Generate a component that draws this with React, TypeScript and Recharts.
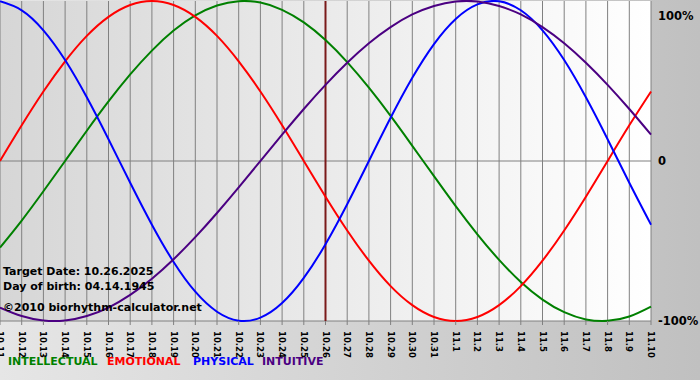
import React from "react";
import {
  LineChart,
  Line,
  XAxis,
  YAxis,
  CartesianGrid,
  ReferenceLine,
} from "recharts";

const dayLabels = [
  "10.11", "10.12", "10.13", "10.14", "10.15", "10.16", "10.17", "10.18", "10.19", "10.20",
  "10.21", "10.22", "10.23", "10.24", "10.25", "10.26", "10.27", "10.28", "10.29", "10.30",
  "10.31", "11.1", "11.2", "11.3", "11.4", "11.5", "11.6", "11.7", "11.8", "11.9", "11.10",
];

const intellectual = [
  -54.1, -37.2, -18.9, 0, 18.9, 37.2, 54.1, 69.0, 81.5, 91.0,
  97.2, 99.9, 99.0, 94.5, 86.6, 75.6, 61.8, 45.8, 28.2, 9.5,
  -9.5, -28.2, -45.8, -61.8, -75.6, -86.6, -94.5, -99.0, -99.9, -97.2, -91.0,
];

const emotional = [
  0, 22.3, 43.4, 62.3, 78.2, 90.1, 97.5, 100, 97.5, 90.1,
  78.2, 62.3, 43.4, 22.3, 0, -22.3, -43.4, -62.3, -78.2, -90.1,
  -97.5, -100, -97.5, -90.1, -78.2, -62.3, -43.4, -22.3, 0, 22.3, 43.4,
];

const physical = [
  99.8, 94.2, 81.7, 63.1, 39.8, 13.6, -13.6, -39.8, -63.1, -81.7,
  -94.2, -99.8, -97.9, -88.8, -73.1, -52.0, -27.0, 0, 27.0, 52.0,
  73.1, 88.8, 97.9, 99.8, 94.2, 81.7, 63.1, 39.8, 13.6, -13.6, -39.8,
];

const intuitive = [
  -91.6, -96.9, -99.7, -99.7, -96.9, -91.6, -83.7, -73.6, -61.4, -47.6,
  -32.5, -16.5, 0, 16.5, 32.5, 47.6, 61.4, 73.6, 83.7, 91.6,
  96.9, 99.7, 99.7, 96.9, 91.6, 83.7, 73.6, 61.4, 47.6, 32.5, 16.5,
];

const yTicks = [-100, 0, 100];
const targetIndex = 15;

const data = dayLabels.map((label, i) => ({
  i,
  label,
  intellectual: intellectual[i],
  emotional: emotional[i],
  physical: physical[i],
  intuitive: intuitive[i],
}));

const xTicks = dayLabels.map((_, i) => i);

const FONT = "'DejaVu Sans', Verdana, sans-serif";

const XTick = (props: any) => {
  const { x, y, payload } = props;
  return (
    <g transform={`translate(${x},${y + 4}) rotate(90)`}>
      <text
        x={0}
        y={0}
        dy="0.35em"
        textAnchor="start"
        fontFamily={FONT}
        fontWeight="bold"
        fontSize={8.5}
        fill="#000"
      >
        {dayLabels[payload.value]}
      </text>
    </g>
  );
};

const YTick = (props: any) => {
  const { x, y, payload } = props;
  const v = payload.value;
  const label = v === 0 ? "0" : `${v}%`;
  const yy = v === 100 ? y + 7 : y;
  return (
    <text
      x={x + 7}
      y={yy}
      dy="0.35em"
      textAnchor="start"
      fontFamily={FONT}
      fontWeight="bold"
      fontSize={11.5}
      fill="#000"
    >
      {label}
    </text>
  );
};

const legendItems = [
  { name: "INTELLECTUAL", color: "#008000", left: 8 },
  { name: "EMOTIONAL", color: "#ff0000", left: 107 },
  { name: "PHYSICAL", color: "#0000ff", left: 193 },
  { name: "INTUITIVE", color: "#4b0082", left: 262 },
];

export default function App() {
  return (
    <div
      style={{
        position: "fixed",
        left: 0,
        top: 0,
        width: 700,
        height: 380,
        background: "linear-gradient(to right, #e6e6e6, #c0c0c0)",
        overflow: "hidden",
      }}
    >
      <LineChart
        width={700}
        height={380}
        data={data}
        margin={{ top: 1, right: 0, left: 0, bottom: 19 }}
      >
        <defs>
          <linearGradient id="plotBg" x1="0" y1="0" x2="1" y2="0">
            <stop offset="0%" stopColor="#d6d6d6" />
            <stop offset="100%" stopColor="#ffffff" />
          </linearGradient>
        </defs>
        <CartesianGrid
          horizontal={false}
          vertical={true}
          stroke="#808080"
          strokeWidth={1}
          fill="url(#plotBg)"
        />
        <XAxis
          dataKey="i"
          type="number"
          domain={[0, 30]}
          ticks={xTicks}
          interval={0}
          height={40}
          axisLine={false}
          tickLine={{ stroke: "#808080" }}
          tickSize={4}
          tick={<XTick />}
        />
        <YAxis
          orientation="right"
          type="number"
          domain={[-100, 100]}
          ticks={yTicks}
          width={49}
          axisLine={false}
          tickLine={false}
          tickSize={0}
          tickMargin={0}
          tick={<YTick />}
        />
        <ReferenceLine y={0} stroke="#808080" strokeWidth={1} />
        <ReferenceLine y={-100} stroke="#808080" strokeWidth={1} />
        <ReferenceLine x={targetIndex} stroke="#7a1a1a" strokeWidth={2} />
        <Line
          type="natural"
          dataKey="intellectual"
          stroke="#008000"
          strokeWidth={2}
          dot={false}
          isAnimationActive={false}
        />
        <Line
          type="natural"
          dataKey="emotional"
          stroke="#ff0000"
          strokeWidth={2}
          dot={false}
          isAnimationActive={false}
        />
        <Line
          type="natural"
          dataKey="physical"
          stroke="#0000ff"
          strokeWidth={2}
          dot={false}
          isAnimationActive={false}
        />
        <Line
          type="natural"
          dataKey="intuitive"
          stroke="#4b0082"
          strokeWidth={2}
          dot={false}
          isAnimationActive={false}
        />
      </LineChart>
      <div
        style={{
          position: "absolute",
          left: 3,
          top: 264,
          fontFamily: FONT,
          fontWeight: "bold",
          fontSize: 11,
          lineHeight: "15px",
          color: "#000",
          whiteSpace: "nowrap",
        }}
      >
        <div>Target Date: 10.26.2025</div>
        <div>Day of birth: 04.14.1945</div>
        <div style={{ marginTop: 6 }}>©2010 biorhythm-calculator.net</div>
      </div>
      {legendItems.map((it) => (
        <div
          key={it.name}
          style={{
            position: "absolute",
            left: it.left,
            top: 354,
            fontFamily: FONT,
            fontWeight: "bold",
            fontSize: 11,
            lineHeight: "15px",
            whiteSpace: "nowrap",
            color: it.color,
          }}
        >
          {it.name}
        </div>
      ))}
    </div>
  );
}
